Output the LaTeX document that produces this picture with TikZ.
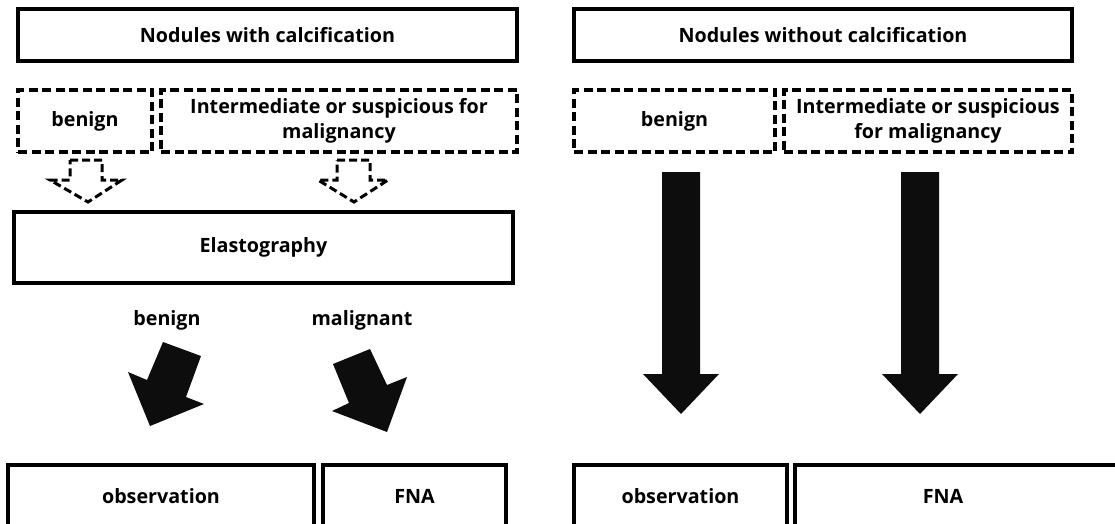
\documentclass[tikz,border=0pt]{standalone}
\usepackage{fontspec}
\setmainfont{Open Sans}
\begin{document}
\begin{tikzpicture}[x=1pt,y=-1pt,
  every node/.style={font=\fontsize{19.7}{24.5}\selectfont\bfseries, inner sep=0pt, outer sep=0pt},
  solidbox/.style={draw, line width=3.2pt, rectangle, minimum width=#1},
  dashbox/.style={draw, line width=3.2pt, rectangle, dash pattern=on 9pt off 4.5pt, minimum width=#1},
  bigarrow/.style={fill=black!95, draw=none},
  dasharrow/.style={draw, line width=3pt, dash pattern=on 8pt off 4pt, line join=miter}]
\useasboundingbox (0,0) rectangle (1115,523);
\clip (0,0) rectangle (1115,523);
% left column
\node[solidbox=499, minimum height=52] (top1) at (267.5,35) {Nodules with calcification};
\node[dashbox=134, minimum height=62] (ben1) at (85,121) {benign};
\node[dashbox=356, minimum height=62, align=center] (int1) at (339,121) {Intermediate or suspicious for\\malignancy};
\node[solidbox=499, minimum height=71] (elast) at (263.5,247.5) {Elastography};
\node (lb1) at (167,320) {benign};
\node (lm1) at (362,320) {malignant};
\node[solidbox=306, minimum height=62] (obs1) at (161,496) {observation};
\node[solidbox=183, minimum height=62] (fna1) at (414.5,496) {FNA};
% dashed block arrows
\draw[dasharrow] (70,160) -- (102,160) -- (102,180) -- (122,180) -- (88,202) -- (50,180) -- (70,180) -- cycle;
\draw[dasharrow] (337,160) -- (370,160) -- (370,180) -- (388,180) -- (354,202) -- (318,180) -- (337,180) -- cycle;
% fat diagonal arrows
\fill[bigarrow] (163,342) -- (201,356) -- (186,397) -- (204,404) -- (150,426) -- (128,372) -- (147,380) -- cycle;
\fill[bigarrow] (370,349) -- (333,364) -- (349,403) -- (332,411) -- (387,432) -- (407,377) -- (387,385) -- cycle;
% right column
\node[solidbox=498, minimum height=52] (top2) at (823,35) {Nodules without calcification};
\node[dashbox=201, minimum height=62] (ben2) at (674.5,121) {benign};
\node[dashbox=288, minimum height=62, align=center] (int2) at (928,121) {Intermediate or suspicious\\for malignancy};
\node[solidbox=213, minimum height=62] (obs2) at (680.5,496) {observation};
\node[solidbox=330, minimum height=62] (fna2) at (960,496) {};
\node (fna2t) at (943,496) {FNA};
% vertical fat arrows
\fill[bigarrow] (662,172) -- (700,172) -- (700,374) -- (719,374) -- (681,414) -- (643,374) -- (662,374) -- cycle;
\fill[bigarrow] (901,172) -- (939,172) -- (939,374) -- (958,374) -- (920,414) -- (882,374) -- (901,374) -- cycle;
\end{tikzpicture}
\end{document}
